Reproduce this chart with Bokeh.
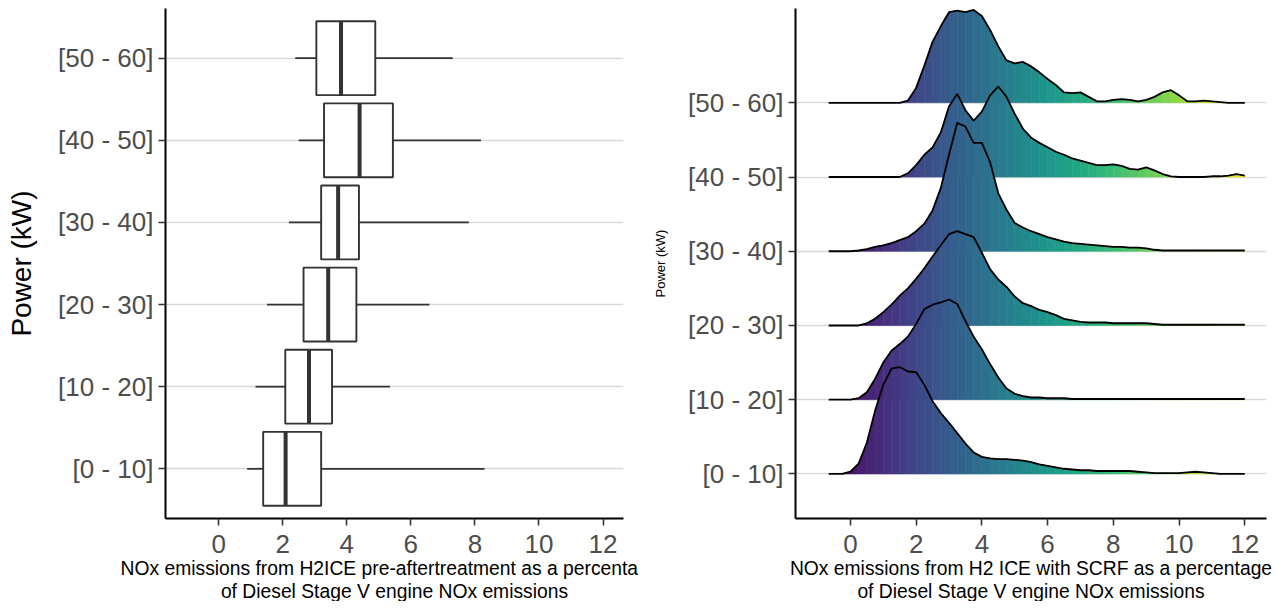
from bokeh.plotting import figure
from bokeh.layouts import row
from bokeh.models import Range1d, FixedTicker, Title
from bokeh.palettes import Viridis256
from bokeh.embed import file_html
from bokeh.resources import INLINE

# ---------------- data ----------------
groups = ["[0 - 10]", "[10 - 20]", "[20 - 30]", "[30 - 40]", "[40 - 50]", "[50 - 60]"]
x_ticks = [0, 2, 4, 6, 8, 10, 12]

# Left panel: boxplot statistics (NOx pre-aftertreatment, % of Diesel Stage V)
box_lower_whisker = [0.89, 1.15, 1.51, 2.19, 2.50, 2.39]
box_q1 = [1.39, 2.08, 2.65, 3.20, 3.29, 3.05]
box_median = [2.09, 2.82, 3.42, 3.73, 4.40, 3.82]
box_q3 = [3.20, 3.54, 4.30, 4.38, 5.44, 4.89]
box_upper_whisker = [8.30, 5.35, 6.58, 7.81, 8.19, 7.31]

# Right panel: ridgeline densities (NOx with SCRF)
density_x = [-0.66, -0.5, -0.25,
             0.0, 0.25, 0.5, 0.75, 1.0, 1.25, 1.5, 1.75,
             2.0, 2.25, 2.5, 2.75, 3.0, 3.25, 3.5, 3.75,
             4.0, 4.25, 4.5, 4.75, 5.0, 5.25, 5.5, 5.75,
             6.0, 6.25, 6.5, 6.75, 7.0, 7.25, 7.5, 7.75,
             8.0, 8.25, 8.5, 8.75, 9.0, 9.25, 9.5, 9.75,
             10.0, 10.25, 10.5, 10.75, 11.0, 11.25, 11.5, 11.75,
             12.0]

density_0_10 = [0, 0, 0,
                0.03, 0.14, 0.42, 0.85, 1.20, 1.42, 1.44, 1.38,
                1.37, 1.20, 0.98, 0.82, 0.69, 0.55, 0.41, 0.29,
                0.23, 0.21, 0.20, 0.20, 0.19, 0.18, 0.16, 0.13,
                0.11, 0.09, 0.07, 0.06, 0.05, 0.05, 0.04, 0.04,
                0.04, 0.04, 0.04, 0.03, 0.02, 0.01, 0.01, 0.01,
                0.01, 0.02, 0.03, 0.02, 0.01, 0, 0, 0,
                0]
density_10_20 = [0, 0, 0,
                 0, 0.02, 0.10, 0.28, 0.50, 0.66, 0.75, 0.85,
                 1.02, 1.22, 1.28, 1.31, 1.35, 1.29, 1.06, 0.85,
                 0.68, 0.48, 0.30, 0.15, 0.08, 0.05, 0.03, 0.03,
                 0.02, 0.02, 0.02, 0.01, 0.01, 0.01, 0.01, 0.01,
                 0.01, 0.01, 0.01, 0.01, 0.01, 0.01, 0.01, 0.01,
                 0.01, 0.01, 0.01, 0.01, 0.01, 0.01, 0.01, 0.01,
                 0.01]
density_20_30 = [0, 0, 0,
                 0, 0, 0.03, 0.09, 0.18, 0.28, 0.40, 0.50,
                 0.63, 0.77, 0.93, 1.08, 1.23, 1.27, 1.23, 1.19,
                 0.98, 0.76, 0.62, 0.52, 0.39, 0.30, 0.26, 0.21,
                 0.18, 0.14, 0.09, 0.07, 0.05, 0.04, 0.04, 0.04,
                 0.03, 0.03, 0.03, 0.03, 0.03, 0.02, 0.01, 0.01,
                 0.01, 0.01, 0.01, 0.01, 0.01, 0.01, 0.01, 0.01,
                 0.01]
density_30_40 = [0, 0, 0,
                 0, 0.01, 0.03, 0.06, 0.08, 0.11, 0.15, 0.19,
                 0.27, 0.37, 0.55, 0.85, 1.30, 1.73, 1.68, 1.46,
                 1.46, 1.20, 0.78, 0.56, 0.38, 0.32, 0.27, 0.23,
                 0.19, 0.16, 0.13, 0.11, 0.10, 0.09, 0.08, 0.07,
                 0.06, 0.06, 0.05, 0.05, 0.04, 0.02, 0.01, 0.01,
                 0.01, 0.01, 0.01, 0.01, 0.01, 0.01, 0.01, 0.01,
                 0.01]
density_40_50 = [0, 0, 0,
                 0, 0, 0, 0, 0, 0, 0, 0.05,
                 0.16, 0.30, 0.40, 0.60, 0.95, 1.12, 0.90, 0.76,
                 0.88, 1.10, 1.22, 1.08, 0.85, 0.65, 0.53, 0.46,
                 0.40, 0.34, 0.30, 0.25, 0.22, 0.19, 0.16, 0.16,
                 0.17, 0.15, 0.11, 0.10, 0.13, 0.09, 0.04, 0.01,
                 0, 0, 0, 0, 0.01, 0.01, 0.02, 0.04,
                 0.02]
density_50_60 = [0, 0, 0,
                 0, 0, 0, 0, 0, 0, 0, 0.03,
                 0.20, 0.50, 0.82, 1.03, 1.22, 1.24, 1.22, 1.25,
                 1.17, 0.98, 0.76, 0.57, 0.53, 0.55, 0.49, 0.41,
                 0.32, 0.24, 0.14, 0.13, 0.14, 0.08, 0.02, 0.02,
                 0.04, 0.05, 0.04, 0.02, 0.04, 0.08, 0.14, 0.17,
                 0.10, 0.02, 0.02, 0.03, 0.02, 0.01, 0, 0,
                 0]
densities = [density_0_10, density_10_20, density_20_30,
             density_30_40, density_40_50, density_50_60]

# the left title is cut at the panel edge in the original image
left_xlabel_lines = ["NOx emissions from H2ICE pre-aftertreatment as a percenta",
                     "of Diesel Stage V engine NOx emissions"]
right_xlabel_lines = ["NOx emissions from H2 ICE with SCRF as a percentage",
                      "of Diesel Stage V engine NOx emissions"]
ylabel = "Power (kW)"

# ---------------- styling helpers ----------------
FONT = "Liberation Sans"
TICK_COLOR = "#4d4d4d"
positions = [i + 1 for i in range(len(groups))]
label_map = {p: g for p, g in zip(positions, groups)}


def style(p, ytitle_size):
    p.outline_line_color = None
    p.background_fill_color = "white"
    p.border_fill_color = "white"
    p.xgrid.grid_line_color = None
    p.ygrid.ticker = FixedTicker(ticks=positions)
    p.ygrid.grid_line_color = "#d9d9d9"
    p.ygrid.grid_line_width = 1.5
    p.xaxis.ticker = FixedTicker(ticks=x_ticks)
    p.yaxis.ticker = FixedTicker(ticks=positions)
    p.yaxis.major_label_overrides = label_map
    for ax in (p.xaxis[0], p.yaxis[0]):
        ax.axis_line_color = "black"
        ax.axis_line_width = 2
        ax.major_tick_line_color = "#333333"
        ax.major_tick_line_width = 1.6
        ax.major_tick_out = 7
        ax.major_tick_in = 0
        ax.minor_tick_line_color = None
        ax.major_label_text_font = FONT
        ax.major_label_text_font_size = "26px"
        ax.major_label_text_color = TICK_COLOR
        ax.axis_label_text_font = FONT
        ax.axis_label_text_font_style = "normal"
        ax.axis_label_text_color = "black"
    p.xaxis.major_label_standoff = 9
    p.yaxis.major_label_standoff = 5
    p.yaxis.axis_label_text_font_size = ytitle_size


def add_xtitle(p, lines, first_align, first_offset):
    p.add_layout(Title(text=lines[0], align=first_align, offset=first_offset,
                       standoff=0, text_font=FONT, text_font_size="19.3px",
                       text_font_style="normal", text_color="black"), "below")
    p.add_layout(Title(text=lines[1], align="center",
                       standoff=0, text_font=FONT, text_font_size="19.3px",
                       text_font_style="normal", text_color="black"), "below")


FRAME_TOP = 8
FRAME_H = 510

# ---------------- left: boxplots ----------------
left = figure(frame_width=458, frame_height=FRAME_H, output_backend="svg",
              toolbar_location=None,
              x_range=Range1d(-1.66, 12.64), y_range=Range1d(0.395, 6.605),
              min_border_left=165, min_border_right=17, min_border_top=FRAME_TOP,
              min_border_bottom=0)
style(left, "28px")
left.yaxis.axis_label = ylabel
left.yaxis.axis_label_standoff = 18

box_color = "#333333"
left.segment(x0=box_lower_whisker, y0=positions, x1=box_q1, y1=positions,
             line_color=box_color, line_width=1.8)
left.segment(x0=box_q3, y0=positions, x1=box_upper_whisker, y1=positions,
             line_color=box_color, line_width=1.8)
left.hbar(y=positions, left=box_q1, right=box_q3, height=0.9,
          fill_color="white", line_color=box_color, line_width=1.9)
left.segment(x0=box_median, y0=[p - 0.45 for p in positions],
             x1=box_median, y1=[p + 0.45 for p in positions],
             line_color=box_color, line_width=4)
add_xtitle(left, left_xlabel_lines, "left", -45)

# ---------------- right: ridgelines ----------------
right = figure(frame_width=471, frame_height=FRAME_H, output_backend="svg",
               toolbar_location=None,
               x_range=Range1d(-1.67, 12.66), y_range=Range1d(0.40, 7.27),
               min_border_left=155, min_border_right=12, min_border_top=FRAME_TOP,
               min_border_bottom=0)
style(right, "13px")
right.yaxis.axis_label = ylabel
right.yaxis.axis_label_standoff = 17
add_xtitle(right, right_xlabel_lines, "center", 0)

xmin, xmax = density_x[0], density_x[-1]
for k in reversed(range(len(groups))):
    base = positions[k]
    h = densities[k]
    xs, ys, cols = [], [], []
    for j in range(len(density_x) - 1):
        if h[j] == 0 and h[j + 1] == 0:
            continue
        xa, xb = density_x[j], density_x[j + 1]
        xs.append([xa, xa, xb, xb])
        ys.append([base, base + h[j], base + h[j + 1], base])
        t = ((xa + xb) / 2 - xmin) / (xmax - xmin)
        cols.append(Viridis256[min(255, max(0, int(round(t * 255))))])
    right.patches(xs, ys, fill_color=cols, line_color=cols, line_width=0.6)
    right.line(density_x, [base + v for v in h], line_color="black", line_width=1.8)

layout = row(left, right)
open("out.html", "w").write(file_html(layout, INLINE))
